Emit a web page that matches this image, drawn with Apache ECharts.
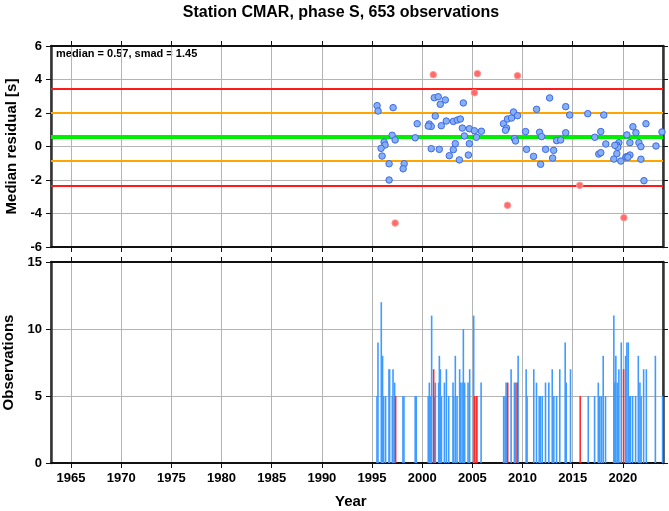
<!DOCTYPE html>
<html><head><meta charset="utf-8">
<script src="https://cdn.jsdelivr.net/npm/echarts@6/dist/echarts.min.js"></script>
<style>html,body{margin:0;padding:0;background:#fff}#c{width:669px;height:511px}</style>
</head><body><div id="c"></div>
<script>
var yearTicks = [1965,1970,1975,1980,1985,1990,1995,2000,2005,2010,2015,2020];
var median = 0.57, smad = 1.45;
var lineLevels = [3.47, 2.02, 0.57, -0.88, -2.33];
var lineColors = ['#ff1a1a', '#ffa500', '#00ee00', '#ffa500', '#ff1a1a'];
var lineWidths = [2, 2, 4, 2, 2];

var goodPoints = [
[1995.5,2.44],[1995.6,2.12],[1997.1,2.32],[2001.2,2.91],[2001.6,2.97],[2002.3,2.78],[2001.8,2.52],[2004.1,2.6],
[2001.3,1.82],[1999.5,1.36],[2000.7,1.34],[2000.9,1.2],[2000.6,1.22],[2001.9,1.24],[2002.4,1.52],[2003.1,1.5],
[2003.5,1.58],[2003.8,1.64],[2004.0,1.1],[2004.7,1.06],[2005.2,0.94],[2005.9,0.91],[2004.2,0.63],[2005.4,0.55],
[2008.1,1.36],[2008.5,1.64],[2008.9,1.7],[2009.1,2.06],[2009.5,1.84],[2008.4,1.1],[2008.3,0.97],[2009.2,0.47],
[2009.3,0.33],[1997.0,0.67],[1997.3,0.39],[1996.2,0.27],[1996.3,0.09],[1995.9,-0.11],[1996.0,-0.57],[1999.3,0.52],
[2000.9,-0.13],[2001.7,-0.17],[2003.3,0.17],[2003.1,-0.19],[2002.7,-0.55],[2004.7,0.17],[2004.6,-0.51],[2003.7,-0.8],
[1996.7,-1.03],[1998.2,-1.03],[1998.1,-1.33],[1996.7,-2.0],
[2012.7,2.9],[2011.4,2.22],[2014.3,2.38],[2014.7,1.88],[2016.5,1.96],[2018.1,1.88],[2010.3,0.89],[2011.7,0.85],
[2011.9,0.59],[2014.3,0.82],[2013.4,0.35],[2013.8,0.39],[2017.2,0.55],[2017.8,0.89],[2018.3,0.15],[2020.4,0.69],
[2021.0,1.18],[2021.3,0.82],[2022.3,1.36],[2020.7,0.23],[2021.6,0.23],[2021.8,-0.01],[2019.6,0.23],[2019.4,0.07],
[2019.5,-0.05],[2023.3,0.03],[2023.9,0.87],[2010.4,-0.17],[2012.3,-0.17],[2013.1,-0.23],[2011.1,-0.59],[2013.0,-0.69],
[2017.6,-0.45],[2017.8,-0.37],[2011.8,-1.06],[2019.2,0.07],[2019.4,-0.43],[2019.1,-0.75],[2019.8,-0.87],[2020.3,-0.63],
[2020.4,-0.61],[2020.7,-0.51],[2020.5,-0.64],[2021.8,-0.76],[2022.1,-2.04]
];
var outlierPoints = [
[2001.1,4.29],[2005.5,4.35],[2009.5,4.23],[2005.2,3.21],[1997.3,-4.57],[2008.5,-3.51],[2015.7,-2.32],[2020.1,-4.25]
];

var goodBars = [
[1995.49,5],[1995.59,9],[1995.92,12],[1996.05,8],[1996.15,5],[1996.35,5],[1996.69,7],[1996.75,7],[1997.02,5],
[1997.09,7],[1997.25,6],[1998.08,5],[1998.18,5],[1999.30,5],[1999.41,5],[2000.60,5],[2000.71,6],[2000.81,5],
[2000.94,11],[2001.22,5],[2001.31,6],[2001.64,6],[2001.71,8],[2001.81,7],[2001.92,5],[2002.21,6],[2002.41,7],
[2002.64,5],[2003.07,6],[2003.13,5],[2003.30,8],[2003.47,5],[2003.73,7],[2003.80,6],[2003.97,6],[2004.10,10],
[2004.23,6],[2004.57,6],[2004.73,7],[2005.13,11],[2005.40,5],[2005.87,6],[2008.12,5],[2008.26,5],[2008.36,6],
[2008.45,5],[2008.86,7],[2009.19,6],[2009.32,6],[2009.56,8],[2010.36,7],[2010.45,5],[2011.12,7],[2011.39,6],
[2011.66,5],[2011.76,5],[2011.96,5],[2012.29,6],[2012.62,6],[2012.96,7],[2013.12,5],[2013.39,5],[2013.71,7],
[2014.25,9],[2014.35,6],[2014.78,7],[2016.55,5],[2017.18,5],[2017.55,6],[2017.70,5],[2017.87,5],[2018.04,8],
[2018.27,5],[2019.10,11],[2019.20,6],[2019.30,8],[2019.44,6],[2019.52,5],[2019.60,7],[2019.84,9],[2020.27,8],
[2020.40,9],[2020.54,9],[2020.67,5],[2020.75,5],[2020.97,5],[2021.27,5],[2021.54,8],[2021.70,6],[2021.82,5],
[2022.07,7],[2022.34,7],[2023.24,8],[2023.96,5]
];
var outlierBars = [
[1997.35,5],[2001.14,7],[2005.23,5],[2005.45,5],[2008.52,6],[2009.46,6],[2015.75,5],[2020.07,7]
];

var FONT = '"Liberation Sans", Arial, Helvetica, sans-serif';
var chart = echarts.init(document.getElementById('c'), null, {renderer: 'canvas'});

function xAx(grid, pos, labels) {
  return {
    type: 'value', gridIndex: grid, position: pos, min: 1963, max: 2024,
    axisLine: {show: true, onZero: false, lineStyle: {color: '#111', width: 2}},
    axisTick: {show: true, customValues: yearTicks, length: 5, lineStyle: {color: '#111', width: 1}},
    axisLabel: {show: labels, customValues: yearTicks, color: '#000', fontFamily: FONT, fontWeight: 'bold', fontSize: 13, margin: 9,
      formatter: function (v) { return String(v); }},
    splitLine: {show: pos === 'bottom', lineStyle: {color: '#b4b4b4', width: 1}}
  };
}
function yAx(grid, pos, mn, mx, iv, name) {
  return {
    type: 'value', gridIndex: grid, position: pos, min: mn, max: mx, interval: iv,
    name: name, nameLocation: 'middle', nameGap: 31,
    nameTextStyle: {color: '#000', fontFamily: FONT, fontWeight: 'bold', fontSize: 15},
    axisLine: {show: true, onZero: false, lineStyle: {color: '#333', width: 2.5}},
    axisTick: {show: true, length: 5, lineStyle: {color: '#111', width: 1}},
    axisLabel: {show: pos === 'left', color: '#000', fontFamily: FONT, fontWeight: 'bold', fontSize: 13, margin: 9},
    splitLine: {show: pos === 'left', lineStyle: {color: '#b4b4b4', width: 1}}
  };
}

var markLineData = lineLevels.map(function (v, i) {
  return {yAxis: v, lineStyle: {color: lineColors[i], width: lineWidths[i], type: 'solid'}};
});

chart.setOption({
  animation: false,
  backgroundColor: '#fff',
  title: {text: 'Station CMAR, phase S, ' + 653 + ' observations', left: 336, textAlign: 'center', top: 0,
    textStyle: {fontFamily: FONT, fontWeight: 'bold', fontSize: 16, color: '#000'}},
  grid: [
    {left: 51, top: 46, width: 612, height: 201, show: true, borderColor: '#111', borderWidth: 1,
      containLabel: false, outerBoundsMode: 'none'},
    {left: 51, top: 262, width: 612, height: 201, show: true, borderColor: '#111', borderWidth: 1,
      containLabel: false, outerBoundsMode: 'none'}
  ],
  graphic: [
    {type: 'text', left: 56, top: 48, style: {text: 'median = ' + median.toFixed(2) + ', smad = ' + smad.toFixed(2),
      font: 'bold 11px ' + FONT, fill: '#000'}},
    {type: 'text', left: 335, top: 494, style: {text: 'Year', font: 'bold 15px ' + FONT, fill: '#000'}}
  ],
  xAxis: [xAx(0, 'bottom', false), xAx(0, 'top', false), xAx(1, 'bottom', true), xAx(1, 'top', false)],
  yAxis: [yAx(0, 'left', -6, 6, 2, 'Median residual [s]'), yAx(0, 'right', -6, 6, 2, ''),
          yAx(1, 'left', 0, 15, 5, 'Observations'), yAx(1, 'right', 0, 15, 5, '')],
  series: [
    {type: 'scatter', xAxisIndex: 0, yAxisIndex: 0, data: goodPoints, symbolSize: 6.5, z: 3,
      itemStyle: {color: '#86aff4', borderColor: '#3c6ae6', borderWidth: 1, opacity: 1},
      markLine: {silent: true, symbol: 'none', label: {show: false}, data: markLineData, z: 2}},
    {type: 'scatter', xAxisIndex: 0, yAxisIndex: 0, data: outlierPoints, symbolSize: 6.5, z: 4,
      itemStyle: {color: '#ff6b6b', borderColor: '#ff9a9a', borderWidth: 1, opacity: 1}},
    {type: 'bar', xAxisIndex: 2, yAxisIndex: 2, data: goodBars, barWidth: 1.6, barGap: '-100%',
      itemStyle: {color: '#3f9bff'}, z: 2},
    {type: 'bar', xAxisIndex: 2, yAxisIndex: 2, data: outlierBars, barWidth: 1.6, barGap: '-100%',
      itemStyle: {color: '#ff2a2a'}, z: 3}
  ]
});
</script></body></html>
